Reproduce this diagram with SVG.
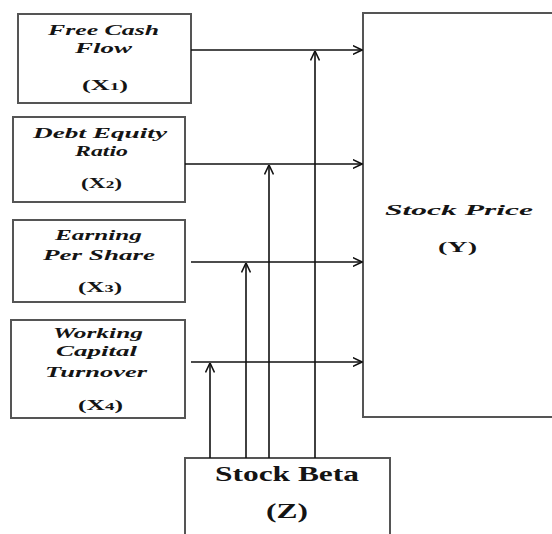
<svg xmlns="http://www.w3.org/2000/svg" width="552" height="534" viewBox="0 0 552 534">
<style>
.box{fill:#fff;stroke:#555;stroke-width:2}
.lbl{font-family:"Liberation Serif",serif;font-weight:bold;font-style:italic;font-size:15px;fill:#141414}
.var{font-family:"Liberation Serif",serif;font-weight:bold;font-size:15px;fill:#141414}
.big{font-family:"Liberation Serif",serif;font-weight:bold;font-size:20px;fill:#141414}
.conn line{stroke:#111;stroke-width:1.6;fill:none}
</style>
<defs>
<marker id="ah" viewBox="0 0 10 10" refX="9.5" refY="5" markerWidth="10" markerHeight="10" markerUnits="userSpaceOnUse" orient="auto">
<path d="M0,0.5 L9.5,5 L0,9.5" fill="none" stroke="#111" stroke-width="1.6"/>
</marker>
</defs>
<rect width="552" height="534" fill="#fff"/>
<g id="x1">
<rect class="box" x="18" y="14" width="173" height="89"/>
<text class="lbl" x="48" y="35" textLength="111" lengthAdjust="spacingAndGlyphs">Free Cash</text>
<text class="lbl" x="75" y="53" textLength="57" lengthAdjust="spacingAndGlyphs">Flow</text>
<text class="var" x="82" y="90" textLength="46" lengthAdjust="spacingAndGlyphs">(X<tspan font-size="11">1</tspan>)</text>
</g>
<g id="x2">
<rect class="box" x="13" y="117" width="172" height="85"/>
<text class="lbl" x="33" y="138" textLength="134" lengthAdjust="spacingAndGlyphs">Debt Equity</text>
<text class="lbl" x="75" y="156" textLength="53" lengthAdjust="spacingAndGlyphs">Ratio</text>
<text class="var" x="81" y="188" textLength="41" lengthAdjust="spacingAndGlyphs">(X<tspan font-size="11">2</tspan>)</text>
</g>
<g id="x3">
<rect class="box" x="13" y="220" width="172" height="82"/>
<text class="lbl" x="55" y="240" textLength="87" lengthAdjust="spacingAndGlyphs">Earning</text>
<text class="lbl" x="43" y="260" textLength="112" lengthAdjust="spacingAndGlyphs">Per Share</text>
<text class="var" x="78" y="292" textLength="44" lengthAdjust="spacingAndGlyphs">(X<tspan font-size="11">3</tspan>)</text>
</g>
<g id="x4">
<rect class="box" x="11" y="320" width="174" height="98"/>
<text class="lbl" x="53" y="338" textLength="90" lengthAdjust="spacingAndGlyphs">Working</text>
<text class="lbl" x="56" y="356" textLength="81" lengthAdjust="spacingAndGlyphs">Capital</text>
<text class="lbl" x="45" y="377" textLength="102" lengthAdjust="spacingAndGlyphs">Turnover</text>
<text class="var" x="78" y="410" textLength="45" lengthAdjust="spacingAndGlyphs">(X<tspan font-size="11">4</tspan>)</text>
</g>
<g id="y">
<rect class="box" x="363" y="13" width="200" height="404"/>
<text class="lbl" font-size="18" x="385" y="215" textLength="148" lengthAdjust="spacingAndGlyphs">Stock Price</text>
<text class="var" font-size="18" x="438" y="252" textLength="39" lengthAdjust="spacingAndGlyphs">(Y)</text>
</g>
<g id="z">
<rect class="box" x="185" y="458" width="205" height="90"/>
<text class="big" x="215" y="481" textLength="144" lengthAdjust="spacingAndGlyphs">Stock Beta</text>
<text class="big" x="266" y="518" textLength="42" lengthAdjust="spacingAndGlyphs">(Z)</text>
</g>
<g id="connectors" class="conn">
<line x1="191" y1="50" x2="362" y2="50" marker-end="url(#ah)"/>
<line x1="185" y1="164" x2="362" y2="164" marker-end="url(#ah)"/>
<line x1="191" y1="262" x2="362" y2="262" marker-end="url(#ah)"/>
<line x1="191" y1="362" x2="362" y2="362" marker-end="url(#ah)"/>
<line x1="315" y1="458" x2="315" y2="51" marker-end="url(#ah)"/>
<line x1="269" y1="458" x2="269" y2="165" marker-end="url(#ah)"/>
<line x1="246" y1="458" x2="246" y2="263" marker-end="url(#ah)"/>
<line x1="210" y1="458" x2="210" y2="363" marker-end="url(#ah)"/>
</g>
</svg>
